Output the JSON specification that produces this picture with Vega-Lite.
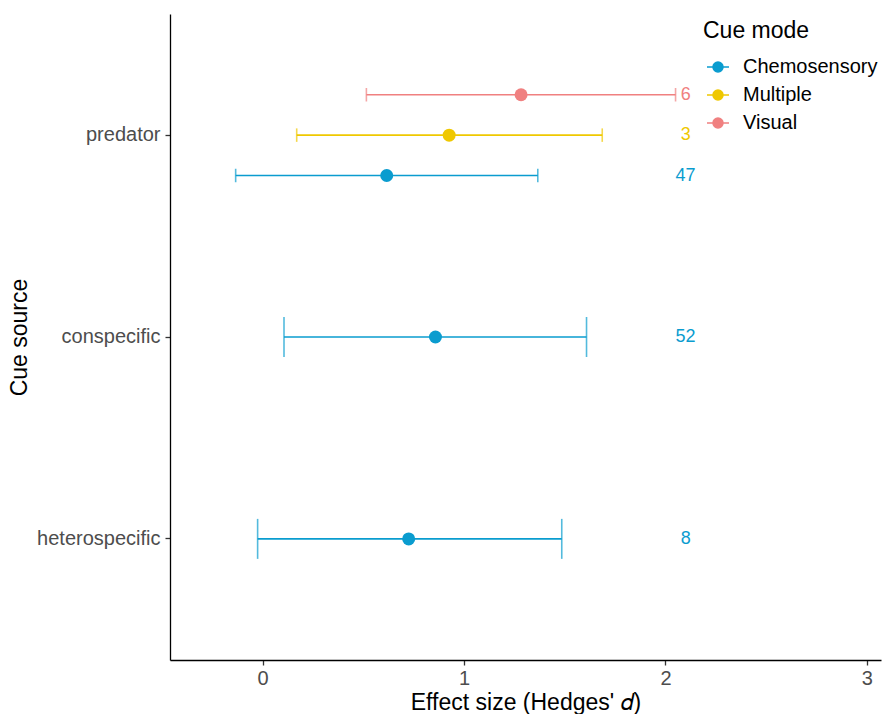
{
  "$schema": "https://vega.github.io/schema/vega-lite/v6.json",
  "width": 711,
  "height": 646,
  "autosize": {"type": "none"},
  "padding": {"left": 170, "top": 14, "right": 2, "bottom": 54},
  "background": "white",
  "config": {
    "view": {"stroke": null},
    "font": "Liberation Sans",
    "axis": {
      "grid": false,
      "domainColor": "#000000",
      "domainWidth": 1.3,
      "tickColor": "#333333",
      "tickWidth": 1.3,
      "tickSize": 5,
      "labelColor": "#4D4D4D",
      "labelFontSize": 20,
      "labelFont": "Liberation Sans",
      "titleFont": "Liberation Sans",
      "titleFontSize": 23,
      "titleFontWeight": "normal",
      "titleColor": "#000000"
    }
  },
  "data": {
    "values": [
      {"source": "predator", "mode": "Visual", "est": 1.283, "lo": 0.515, "hi": 2.05, "n": "6"},
      {"source": "predator", "mode": "Multiple", "est": 0.926, "lo": 0.169, "hi": 1.686, "n": "3"},
      {"source": "predator", "mode": "Chemosensory", "est": 0.616, "lo": -0.134, "hi": 1.366, "n": "47"},
      {"source": "conspecific", "mode": "Chemosensory", "est": 0.858, "lo": 0.106, "hi": 1.608, "n": "52"},
      {"source": "heterospecific", "mode": "Chemosensory", "est": 0.725, "lo": -0.025, "hi": 1.485, "n": "8"}
    ]
  },
  "encoding": {
    "y": {
      "field": "source",
      "type": "nominal",
      "scale": {"domain": ["predator", "conspecific", "heterospecific"], "paddingInner": 0, "paddingOuter": 0.1},
      "axis": {"title": "Cue source", "labelPadding": 5, "titlePadding": 5}
    },
    "color": {
      "field": "mode",
      "type": "nominal",
      "scale": {"domain": ["Chemosensory", "Multiple", "Visual"], "range": ["#0A9CCF", "#EFC800", "#F08080"]},
      "legend": {
        "orient": "none",
        "legendX": 533,
        "legendY": 6,
        "title": "Cue mode",
        "titleFontSize": 23,
        "titleFontWeight": "normal",
        "titleColor": "#000000",
        "titleFont": "Liberation Sans",
        "titlePadding": 12,
        "labelFontSize": 20,
        "labelFont": "Liberation Sans",
        "labelColor": "#000000",
        "labelOffset": 13,
        "symbolType": "M-1,0L1,0M0.45,0A0.45,0.45,0,1,1,-0.45,0A0.45,0.45,0,1,1,0.45,0Z",
        "symbolSize": 484,
        "symbolStrokeWidth": 1.6,
        "symbolOffset": 3,
        "rowPadding": 6,
        "padding": 0,
        "encode": {"symbols": {"update": {"stroke": {"scale": "color", "field": "value"}, "fill": {"scale": "color", "field": "value"}, "opacity": {"value": 1}}}}
      }
    }
  },
  "layer": [
    {
      "transform": [{"filter": "datum.source === 'predator'"}],
      "encoding": {
        "yOffset": {"field": "mode", "type": "nominal", "scale": {"domain": ["Visual", "Multiple", "Chemosensory"], "paddingInner": 0, "paddingOuter": 1}}
      },
      "layer": [
        {
          "mark": {"type": "rule", "strokeWidth": 1.6},
          "encoding": {
            "x": {"field": "lo", "type": "quantitative", "scale": {"domain": [-0.46, 3.07], "nice": false, "zero": false}, "axis": {"title": "Effect size (Hedges' 𝑑)", "values": [0, 1, 2, 3], "format": "d", "labelPadding": 3, "titlePadding": 3}},
            "x2": {"field": "hi"}
          }
        },
        {
          "transform": [{"fold": ["lo", "hi"], "as": ["end", "xv"]}],
          "mark": {"type": "tick", "orient": "vertical", "size": 13.5, "thickness": 1.6},
          "encoding": {"x": {"field": "xv", "type": "quantitative"}}
        },
        {
          "mark": {"type": "point", "filled": true, "opacity": 1, "size": 169, "shape": "circle"},
          "encoding": {"x": {"field": "est", "type": "quantitative"}}
        },
        {
          "mark": {"type": "text", "fontSize": 18, "align": "center", "baseline": "middle"},
          "encoding": {"x": {"datum": 2.1, "type": "quantitative"}, "text": {"field": "n"}}
        }
      ]
    },
    {
      "transform": [{"filter": "datum.source !== 'predator'"}],
      "layer": [
        {
          "mark": {"type": "rule", "strokeWidth": 1.6},
          "encoding": {"x": {"field": "lo", "type": "quantitative"}, "x2": {"field": "hi"}}
        },
        {
          "transform": [{"fold": ["lo", "hi"], "as": ["end", "xv"]}],
          "mark": {"type": "tick", "orient": "vertical", "size": 40, "thickness": 1.6},
          "encoding": {"x": {"field": "xv", "type": "quantitative"}}
        },
        {
          "mark": {"type": "point", "filled": true, "opacity": 1, "size": 169, "shape": "circle"},
          "encoding": {"x": {"field": "est", "type": "quantitative"}}
        },
        {
          "mark": {"type": "text", "fontSize": 18, "align": "center", "baseline": "middle"},
          "encoding": {"x": {"datum": 2.1, "type": "quantitative"}, "text": {"field": "n"}}
        }
      ]
    }
  ]
}
